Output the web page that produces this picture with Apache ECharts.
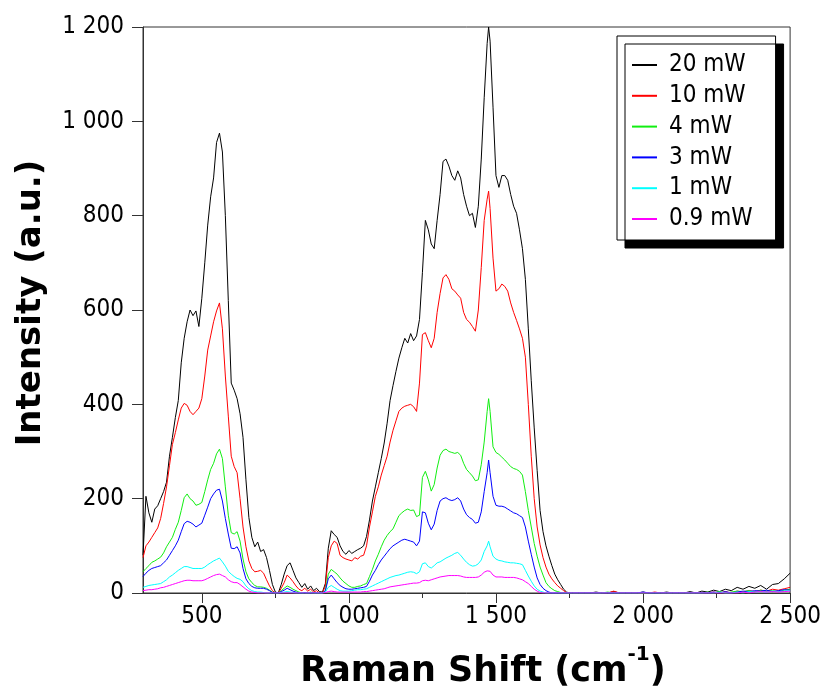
<!DOCTYPE html>
<html><head><meta charset="utf-8">
<script src="https://cdn.jsdelivr.net/npm/echarts@6/dist/echarts.min.js"></script>
<style>html,body{margin:0;padding:0;background:#fff}#chart{width:824px;height:689px}</style>
</head><body><div id="chart"></div>
<script>
// Raman shift (cm-1) sample positions
const ramanShift = [
 300,310,320,330,340,350,360,370,380,390,
 400,410,420,430,440,450,460,470,480,490,
 500,510,520,530,540,550,560,570,580,590,
 600,610,620,630,640,650,660,670,680,690,
 700,710,720,730,740,750,760,770,780,790,
 800,810,820,830,840,850,860,870,880,890,
 900,910,920,930,940,950,960,970,980,990,
 1000,1010,1020,1030,1040,1050,1060,1070,1080,1090,
 1100,1110,1120,1130,1140,1150,1160,1170,1180,1190,
 1200,1210,1220,1230,1240,1250,1260,1270,1280,1290,
 1300,1310,1320,1330,1340,1350,1360,1370,1380,1390,
 1400,1410,1420,1430,1440,1450,1460,1470,1475,1480,1490,
 1500,1510,1520,1530,1540,1550,1560,1570,1580,1590,
 1600,1610,1620,1630,1640,1650,1660,1670,1680,1690,
 1700,1710,1720,1730,1740,1750,1760,
 1780,1800,1820,1840,1860,1880,1900,1920,1940,1960,
 1980,2000,2020,2040,2060,2080,2100,2120,2140,2160,
 2180,2200,2220,2240,2260,2280,2300,2320,2340,2360,
 2380,2400,2420,2440,2460,2480,2500
];
const int20mW = [
 80,205,170,150,178,185,200,215,235,290,
 330,372,408,488,540,575,600,588,598,565,
 625,700,780,840,880,955,975,935,800,620,
 445,430,412,380,330,240,160,118,98,108,
 88,92,75,48,18,2,0,18,40,58,
 64,48,32,22,12,20,8,15,5,10,
 3,2,20,95,132,124,118,100,88,82,
 90,84,88,92,95,100,120,155,195,225,
 255,285,318,360,408,440,470,498,520,540,
 530,550,535,545,580,680,790,770,740,730,
 790,845,915,920,905,885,875,895,880,845,
 820,800,805,775,820,920,1050,1165,1200,1170,1030,
 885,860,885,885,875,845,820,805,770,730,
 665,560,450,350,260,175,130,100,78,58,
 40,28,18,8,2,0,0,
 0,0,0,2,0,0,3,0,0,0,
 0,2,0,0,0,2,0,0,0,3,
 0,4,2,6,3,8,5,12,8,14,
 10,16,8,18,20,30,42
];
const int10mW = [
 75,100,108,118,128,138,158,190,225,270,
 315,340,367,392,402,398,385,378,385,392,
 412,460,515,545,575,598,615,560,460,375,
 290,268,255,200,140,98,68,52,45,46,
 48,42,28,15,5,0,0,10,22,38,
 32,24,15,8,5,10,4,8,2,5,
 0,0,15,75,100,110,105,80,75,72,
 70,68,75,72,78,80,100,140,172,205,
 225,250,270,290,320,345,365,385,392,396,
 398,400,395,385,445,548,552,535,520,540,
 595,635,668,675,665,645,640,632,625,595,
 580,574,565,555,600,690,790,835,852,815,710,
 640,645,655,650,640,615,595,578,560,540,
 500,400,290,200,140,102,75,55,40,30,
 22,15,10,5,1,0,0,
 0,0,0,0,0,0,4,0,0,0,
 0,0,0,2,0,0,0,0,0,0,
 0,0,0,2,0,3,0,4,2,5,
 3,6,4,8,6,9,12
];
const int4mW = [
 45,52,58,65,68,72,76,85,98,108,
 118,135,150,175,202,210,200,195,186,188,
 192,215,240,262,275,295,305,285,225,165,
 128,125,130,110,72,45,30,22,16,13,
 13,12,10,6,2,0,0,5,10,15,
 12,8,5,2,0,1,0,2,0,0,
 0,0,5,40,50,45,40,32,25,20,
 15,12,12,14,15,18,20,35,50,68,
 82,98,112,122,130,136,150,164,170,175,
 178,175,176,162,165,245,258,240,216,230,
 265,292,302,305,300,298,296,298,292,275,
 262,255,248,238,240,272,320,385,412,385,310,
 298,294,288,282,275,268,264,262,258,250,
 215,175,140,105,78,55,38,22,14,9,
 5,3,1,0,0,0,0,
 0,0,0,0,0,2,0,0,0,0,
 0,0,0,0,0,0,0,0,0,0,
 0,0,2,0,3,0,2,4,3,5,
 2,6,4,5,3,6,8
];
const int3mW = [
 35,42,48,52,54,56,58,64,70,80,
 90,100,112,130,147,152,150,146,140,144,
 148,165,182,200,210,218,220,195,158,125,
 95,94,98,85,52,30,20,14,11,10,
 10,10,8,5,1,0,0,3,6,10,
 7,4,2,0,0,1,0,0,1,0,
 0,0,5,30,38,30,22,16,12,9,
 8,8,9,10,11,12,14,25,38,48,
 60,70,78,86,94,100,104,108,112,114,
 112,110,108,100,110,172,170,148,134,146,
 175,195,200,202,198,196,198,202,195,178,
 166,160,156,148,150,172,215,255,282,255,205,
 186,184,184,182,178,174,170,168,164,160,
 140,110,82,55,32,18,10,5,2,0,
 0,0,0,0,0,0,0,
 0,0,0,0,0,0,0,0,0,0,
 0,2,0,0,0,0,0,0,0,0,
 0,0,0,2,0,3,0,2,4,3,
 5,4,6,3,5,7,6
];
const int1mW = [
 12,14,16,17,18,19,20,24,28,34,
 38,43,48,52,56,56,54,52,52,52,
 52,55,60,64,68,71,74,66,57,46,
 40,35,31,29,24,15,9,5,3,2,
 2,1,0,0,0,0,0,1,2,3,
 2,1,0,0,0,0,0,0,0,0,
 0,0,2,12,16,12,8,5,4,4,
 4,5,6,7,7,8,9,12,15,18,
 21,24,27,30,33,35,37,38,40,42,
 44,45,44,41,45,62,64,56,53,58,
 64,66,70,74,77,80,84,86,80,72,
 65,60,57,58,62,70,88,100,110,98,78,
 72,69,68,66,65,64,64,63,62,60,
 48,36,25,15,8,4,2,0,0,0,
 0,0,0,0,0,0,0,
 0,0,0,0,0,0,0,0,0,0,
 0,0,0,0,0,0,0,0,0,0,
 0,0,0,0,2,0,0,2,0,3,
 2,3,2,4,3,4,5
];
const int09mW = [
 5,6,7,7,8,9,11,12,14,16,
 18,20,22,24,26,27,27,26,26,26,
 26,28,31,34,37,39,40,37,34,28,
 24,22,22,18,13,8,4,2,1,0,
 0,0,0,0,0,0,0,0,0,0,
 0,0,0,0,0,0,0,0,0,0,
 0,0,1,3,4,3,2,2,2,2,
 2,2,2,2,2,3,3,4,5,6,
 7,8,9,11,13,14,15,16,17,18,
 19,20,21,21,22,26,27,26,28,30,
 32,34,35,36,37,37,37,37,36,34,
 33,33,33,33,34,38,44,47,50,46,38,
 34,34,34,33,33,33,33,32,30,28,
 24,20,14,8,4,1,0,0,0,0,
 0,0,0,0,0,0,0,
 0,0,0,0,0,0,0,0,0,0,
 0,0,0,0,0,0,0,0,0,0,
 0,0,0,0,0,0,0,0,2,0,
 2,3,2,3,2,3,4
];
const seriesNames = ['20 mW','10 mW','4 mW','3 mW','1 mW','0.9 mW'];
const seriesValues = [int20mW, int10mW, int4mW, int3mW, int1mW, int09mW];
const seriesColors = ['#000000','#ff0000','#11ee11','#0000ff','#00ffff','#ff00ff'];
const xMajorTicks = [500,1000,1500,2000,2500];
const xMinorTicks = [750,1250,1750,2250];

const LABEL_FONT = '"DejaVu Sans Condensed", "DejaVu Sans", sans-serif';
const TITLE_FONT = '"DejaVu Sans", sans-serif';
const fmt = v => String(v).replace(/\B(?=(\d{3})+(?!\d))/g, ' ');

const chart = echarts.init(document.getElementById('chart'), null, {renderer: 'canvas'});
chart.setOption({
  animation: false,
  backgroundColor: '#ffffff',
  grid: {left: 143, right: 33, top: 27, bottom: 96, show: true, borderColor: '#333', borderWidth: 1, backgroundColor: 'transparent'},
  xAxis: [{
    type: 'value', min: 300, max: 2500, position: 'bottom',
    axisLine: {show: true, onZero: false, lineStyle: {color: '#333', width: 1}},
    axisTick: {show: true, customValues: xMajorTicks, length: 10, lineStyle: {color: '#333'}},
    axisLabel: {show: true, customValues: xMajorTicks, formatter: fmt, fontSize: 24, fontFamily: LABEL_FONT, color: '#000', margin: 12},
    splitLine: {show: false}
  }, {
    type: 'value', min: 300, max: 2500, position: 'bottom',
    axisLine: {show: false, onZero: false},
    axisTick: {show: true, customValues: xMinorTicks, length: 5, lineStyle: {color: '#333'}},
    axisLabel: {show: false},
    splitLine: {show: false}
  }],
  yAxis: {
    type: 'value', min: 0, max: 1200, interval: 200,
    axisLine: {show: true, onZero: false, lineStyle: {color: '#333', width: 1}},
    axisTick: {show: true, length: 11, lineStyle: {color: '#333'}},
    axisLabel: {formatter: fmt, fontSize: 24, fontFamily: LABEL_FONT, color: '#000', margin: 19},
    splitLine: {show: false}
  },
  legend: {
    orient: 'vertical', left: 617, top: 36,
    data: seriesNames, selectedMode: false,
    icon: 'rect', itemWidth: 25, itemHeight: 2, itemGap: 6.8,
    textStyle: {fontSize: 24, lineHeight: 24, fontFamily: LABEL_FONT, color: '#000', padding: [0, 0, 0, 7]},
    backgroundColor: '#fff', borderColor: '#000', borderWidth: 1,
    padding: [17, 23, 9, 15],
    shadowColor: '#000', shadowOffsetX: 8, shadowOffsetY: 8, shadowBlur: 0
  },
  graphic: [{
    type: 'text', x: 31, y: 303, rotation: Math.PI / 2,
    style: {text: 'Intensity (a.u.)', font: 'bold 34px ' + TITLE_FONT, fill: '#000',
            align: 'center', verticalAlign: 'middle', textAlign: 'center', textVerticalAlign: 'middle'}
  }, {
    type: 'text', x: 483, y: 667,
    style: {text: '{a|Raman Shift (cm}{s|-1}{a|)}', fill: '#000',
            align: 'center', verticalAlign: 'middle', textAlign: 'center', textVerticalAlign: 'middle',
            rich: {a: {font: 'bold 35px ' + TITLE_FONT, lineHeight: 44, verticalAlign: 'bottom'},
                   s: {font: 'bold 20px ' + TITLE_FONT, lineHeight: 24, verticalAlign: 'top'}}}
  }],
  series: seriesNames.map((name, k) => ({
    name: name, type: 'line', xAxisIndex: 0,
    showSymbol: false, symbol: 'none',
    lineStyle: {width: 1, color: seriesColors[k]},
    itemStyle: {color: seriesColors[k]},
    data: ramanShift.map((x, i) => [x, seriesValues[k][i]])
  }))
});
</script>
</body></html>
